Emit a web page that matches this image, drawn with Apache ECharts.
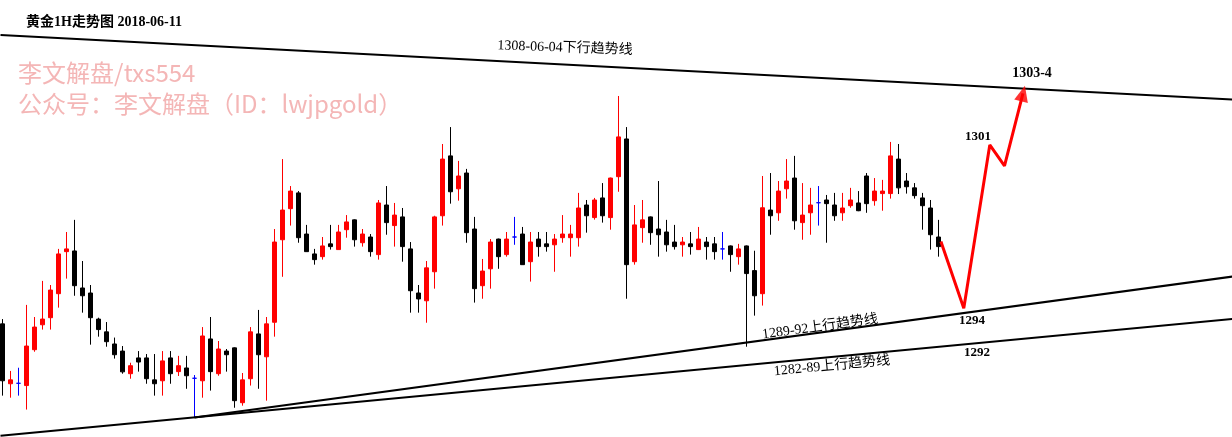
<!DOCTYPE html>
<html><head><meta charset="utf-8">
<script src="https://cdn.jsdelivr.net/npm/echarts@6/dist/echarts.min.js"></script>
<style>html,body{margin:0;padding:0;background:#fff;}#c{width:1232px;height:437px;}</style>
</head><body><div id="c"></div>
<script>
// Gold 1H candles (USD)
const openVals = [1293.23,1290.61,1290.63,1290.53,1292.10,1293.19,1293.50,1294.55,1296.39,1296.42,
1294.80,1294.58,1293.44,1292.88,1292.35,1292.04,1291.05,1291.74,1291.74,1290.78,
1290.74,1291.74,1291.14,1291.30,1290.85,1290.74,1292.57,1291.05,1292.04,1292.18,
1289.78,1290.83,1292.79,1291.79,1293.30,1296.91,1298.27,1298.96,1297.16,1296.29,
1296.17,1296.73,1296.48,1297.35,1297.78,1296.78,1297.03,1296.26,1298.43,1297.53,
1297.91,1296.51,1294.58,1294.24,1295.51,1297.96,1300.58,1299.14,1299.83,1297.38,
1294.90,1295.64,1296.94,1296.26,1297.03,1297.16,1295.95,1296.94,1296.73,1296.69,
1297.00,1297.00,1297.00,1298.43,1297.88,1298.74,1297.88,1299.67,1301.32,1295.95,
1297.44,1297.91,1297.38,1297.25,1296.81,1296.69,1296.73,1296.48,1296.81,1296.73,
1296.51,1296.64,1296.17,1296.64,1295.56,1294.55,1298.21,1298.09,1299.14,1299.61,
1297.66,1298.09,1298.53,1298.65,1298.43,1298.09,1298.40,1298.52,1299.70,1298.62,
1298.93,1298.93,1300.44,1299.48,1299.18,1298.74,1298.30,1297.03];
const closeVals = [1290.74,1290.78,1290.63,1292.26,1293.09,1293.44,1294.71,1296.29,1296.51,1294.90,
1294.46,1293.50,1292.98,1292.45,1291.88,1291.13,1291.40,1291.56,1290.83,1290.61,
1291.61,1291.05,1291.40,1290.96,1290.85,1292.70,1291.14,1292.13,1291.88,1289.87,
1290.78,1292.88,1291.88,1293.23,1296.81,1298.21,1299.04,1297.00,1296.39,1296.04,
1296.64,1296.61,1297.25,1297.69,1296.91,1297.16,1296.39,1298.52,1297.66,1297.99,
1296.61,1294.68,1294.32,1295.68,1297.91,1300.44,1299.01,1299.70,1297.22,1294.77,
1295.54,1296.81,1296.17,1296.94,1297.03,1295.82,1296.81,1296.61,1296.61,1296.94,
1297.16,1297.16,1298.30,1297.96,1298.65,1297.96,1299.61,1301.41,1295.82,1297.56,
1297.78,1297.22,1297.13,1296.69,1296.61,1296.81,1296.61,1296.94,1296.61,1296.39,
1296.51,1296.26,1296.51,1295.43,1294.46,1298.31,1297.96,1299.04,1299.48,1297.74,
1297.99,1298.43,1298.53,1298.49,1297.96,1298.30,1298.65,1298.18,1298.49,1299.04,
1299.04,1300.58,1299.18,1299.23,1298.84,1298.40,1297.13,1296.61];
const lowVals = [1290.09,1290.00,1290.09,1289.48,1292.01,1292.98,1292.98,1293.94,1295.21,1294.46,
1293.72,1292.32,1292.67,1292.23,1291.71,1291.05,1290.83,1291.14,1290.61,1290.09,
1290.09,1290.61,1290.95,1290.39,1289.13,1290.00,1290.31,1290.96,1291.14,1289.56,
1289.65,1290.53,1290.39,1289.87,1292.67,1295.29,1297.53,1296.78,1296.39,1295.82,
1296.04,1296.48,1296.48,1297.00,1296.61,1296.61,1296.17,1296.04,1297.13,1296.61,
1295.95,1293.72,1293.72,1293.28,1294.77,1297.53,1298.49,1298.62,1296.78,1294.16,
1294.33,1294.77,1295.64,1296.17,1296.69,1295.82,1295.08,1296.17,1296.39,1295.51,
1296.78,1296.17,1296.61,1297.22,1297.79,1297.66,1297.35,1299.01,1294.33,1295.82,
1296.78,1296.69,1296.17,1296.39,1296.48,1296.17,1296.26,1296.46,1296.04,1296.04,
1296.04,1295.51,1295.82,1292.23,1293.59,1294.03,1297.13,1297.74,1298.71,1297.35,
1296.91,1297.13,1297.53,1296.78,1297.74,1297.74,1298.31,1298.16,1298.09,1298.40,
1298.18,1298.71,1298.91,1298.93,1298.71,1297.35,1296.48,1296.17];
const highVals = [1293.44,1291.17,1291.31,1294.06,1293.53,1295.11,1294.93,1296.51,1297.25,1297.78,
1295.98,1294.93,1293.50,1293.31,1292.63,1292.26,1291.53,1292.04,1291.91,1291.91,
1292.04,1292.04,1291.83,1291.83,1290.99,1293.09,1293.53,1292.48,1292.13,1292.20,
1291.08,1293.09,1293.84,1293.53,1297.38,1300.44,1299.26,1299.04,1297.56,1296.51,
1297.03,1297.56,1297.56,1297.99,1297.80,1297.38,1297.16,1298.65,1299.26,1298.52,
1298.30,1296.81,1294.93,1295.98,1297.96,1301.10,1301.84,1300.36,1300.01,1297.91,
1296.07,1296.94,1296.96,1297.25,1297.91,1297.47,1297.25,1297.25,1297.25,1297.16,
1297.99,1297.56,1298.96,1298.65,1298.74,1299.39,1299.63,1303.20,1301.84,1298.43,
1298.65,1297.93,1299.48,1297.78,1297.56,1297.03,1297.25,1297.47,1297.03,1297.03,
1297.25,1296.66,1296.73,1296.66,1296.43,1299.70,1299.83,1299.48,1300.44,1300.58,
1299.39,1299.18,1299.26,1298.87,1298.96,1298.96,1299.18,1299.04,1299.83,1299.61,
1299.53,1301.19,1301.10,1299.83,1299.39,1298.96,1298.65,1297.78];

const slotCount = 155; // hourly slots across the frame (incl. projection room)

// Trend lines: [barIndex, price]
const downTrend = [[-0.25, 1305.87], [153.75, 1303.05]];      // 1308-06-04 下行趋势线
const upTrendA = [[24, 1289.13], [153.75, 1295.30]];          // 1289-92 上行趋势线
const upTrendB = [[-0.25, 1288.33], [153.75, 1293.44]];       // 1282-89 上行趋势线
// Projected path
const projX = [117.3, 120.16, 123.41, 125.25, 127.56];
const projY = [1296.83, 1293.91, 1301.06, 1300.14, 1303.31];

const categories = Array.from({length: slotCount}, (_, i) => String(i));
const candleData = openVals.map((o, i) => {
  const item = {value: [o, closeVals[i], lowVals[i], highVals[i]]};
  if (o === closeVals[i]) {
    item.itemStyle = {color: '#0000ff', color0: '#0000ff', borderColor: '#0000ff', borderColor0: '#0000ff'};
  }
  return item;
});
const projData = projX.map((x, i) => [x, projY[i]]);
const last = projData.length - 1;

const serif = "'Liberation Serif','DejaVu Serif','Noto Sans CJK SC',serif";
const sans = "'Noto Sans CJK SC','Noto Sans',sans-serif";

function txt(text, x, y, opts) {
  return {
    type: 'text', x: x, y: y, rotation: (opts && opts.rot) || 0, z: 100,
    style: {text: text, fill: (opts && opts.fill) || '#000', align: (opts && opts.align) || 'center',
      verticalAlign: 'middle', font: (opts && opts.font) || ("14px " + serif)}
  };
}

const chart = echarts.init(document.getElementById('c'), null, {renderer: 'canvas'});
chart.setOption({
  animation: false,
  backgroundColor: '#ffffff',
  grid: {left: -1.5, top: 0, width: slotCount * 8, height: 437, containLabel: false, outerBoundsMode: 'none'},
  xAxis: [
    {type: 'category', data: categories, show: false, boundaryGap: true},
    {type: 'value', min: -0.5, max: slotCount - 0.5, show: false}
  ],
  yAxis: {type: 'value', min: 1288.28, max: 1307.4, show: false},
  series: [
    {
      type: 'candlestick', xAxisIndex: 0, data: candleData, barWidth: 4,
      itemStyle: {color: '#ff0000', color0: '#000000', borderColor: '#ff0000', borderColor0: '#000000', borderWidth: 1}
    },
    {type: 'line', xAxisIndex: 1, data: downTrend, symbol: 'none', lineStyle: {color: '#000', width: 2}, z: 3},
    {type: 'line', xAxisIndex: 1, data: upTrendA, symbol: 'none', lineStyle: {color: '#000', width: 2}, z: 3},
    {type: 'line', xAxisIndex: 1, data: upTrendB, symbol: 'none', lineStyle: {color: '#000', width: 2}, z: 3},
    {type: 'line', xAxisIndex: 1, data: projData, symbol: 'none', lineStyle: {color: '#ff0000', width: 3}, z: 4},
    {type: 'scatter', xAxisIndex: 1, data: [projData[last]], symbol: 'triangle', symbolSize: [14, 16],
      symbolRotate: -14, itemStyle: {color: '#ff0000'}, z: 5}
  ],
  graphic: [
    txt('黄金1H走势图 2018-06-11', 26, 22, {align: 'left', font: 'bold 14px ' + serif}),
    txt('李文解盘/txs554', 18, 73, {align: 'left', fill: '#f4b6b6', font: '24px ' + sans}),
    txt('公众号：李文解盘（ID：lwjpgold）', 18, 104, {align: 'left', fill: '#f4b6b6', font: '24px ' + sans}),
    txt('1308-06-04下行趋势线', 565, 48, {rot: -0.035}),
    txt('1303-4', 1032, 73, {font: 'bold 14px ' + serif}),
    txt('1301', 978, 137, {font: 'bold 13px ' + serif}),
    txt('1294', 972, 321, {font: 'bold 13px ' + serif}),
    txt('1292', 977, 353, {font: 'bold 13px ' + serif}),
    txt('1289-92上行趋势线', 820, 327, {rot: 0.135}),
    txt('1282-89上行趋势线', 832, 366, {rot: 0.095})
  ]
});
</script></body></html>
